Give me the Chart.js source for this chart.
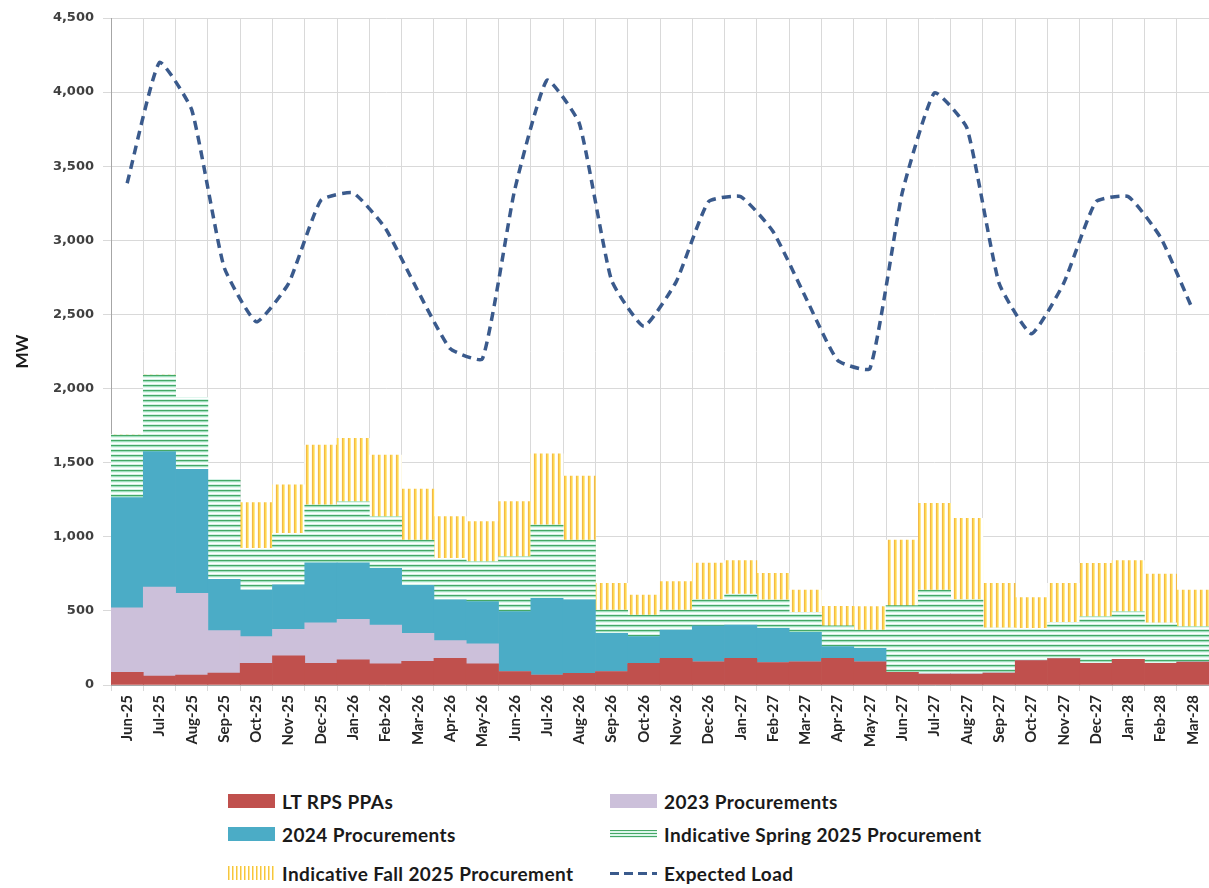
<!DOCTYPE html>
<html>
<head>
<meta charset="utf-8">
<script src="https://cdn.jsdelivr.net/npm/chart.js@4.4.1/dist/chart.umd.min.js"></script>
<style>
  html, body { margin: 0; padding: 0; background: #fff; }
  #wrap { position: relative; width: 1209px; height: 888px; overflow: hidden; }
  #chart { position: absolute; left: 0; top: 0; }
  .leg { position: absolute; display: flex; align-items: center; font-family: Lato, sans-serif;
         font-weight: bold; font-size: 19px; letter-spacing: 0.4px; color: #1a1a1a; white-space: nowrap; }
  .sw { width: 47px; height: 14px; margin-right: 7px; }
</style>
</head>
<body>
<div id="wrap">
  <canvas id="chart" width="1209" height="772"></canvas>
</div>
<script>
// months Jun-25 .. Mar-28
const months = ["Jun-25","Jul-25","Aug-25","Sep-25","Oct-25","Nov-25","Dec-25",
  "Jan-26","Feb-26","Mar-26","Apr-26","May-26","Jun-26","Jul-26","Aug-26","Sep-26","Oct-26","Nov-26","Dec-26",
  "Jan-27","Feb-27","Mar-27","Apr-27","May-27","Jun-27","Jul-27","Aug-27","Sep-27","Oct-27","Nov-27","Dec-27",
  "Jan-28","Feb-28","Mar-28"];

// MW
const ltRpsPpas = [85,60,67,80,146,196,146,169,142,160,180,142,90,67,79,90,146,180,157,180,151,157,180,157,85,74,74,80,164,178,146,173,146,155];
const proc2023 = [435,600,552,287,180,180,274,274,263,189,119,135,0,0,0,0,0,0,0,0,0,0,0,0,0,0,0,0,0,0,0,0,0,0];
const proc2024 = [744,915,836,346,315,299,405,382,382,323,275,285,405,518,495,259,180,191,243,225,231,198,80,90,0,0,0,0,0,0,0,0,0,0];
const spring2025 = [423,518,486,675,281,349,390,412,349,306,281,270,371,495,404,157,146,135,176,209,192,135,140,124,450,567,502,305,218,245,315,322,274,239];
const fall2025 = [0,0,0,0,308,326,404,427,416,344,281,270,371,480,432,180,135,191,247,225,180,151,131,158,443,585,549,301,207,263,360,344,329,247];
const expectedLoad = [3385,4200,3880,2820,2450,2710,3270,3320,3080,2660,2270,2200,3340,4080,3790,2730,2420,2720,3260,3295,3060,2620,2190,2135,3320,3995,3760,2710,2370,2710,3260,3295,3020,2530];

// striped fills, like the Excel pattern fills
function stripes(colors, vertical){
  const c = document.createElement("canvas");
  c.width = vertical ? colors.length : 1;
  c.height = vertical ? 1 : colors.length;
  const g = c.getContext("2d");
  colors.forEach((col, i) => {
    g.fillStyle = col;
    if (vertical) g.fillRect(i, 0, 1, 1); else g.fillRect(0, i, 1, 1);
  });
  return g.createPattern(c, "repeat");
}
const ctx = document.getElementById("chart").getContext("2d");
const springFill = stripes(["#45A866","#9FE0BE","#E2F7EF","#FFFFFF","#D3F2E6"], false);
const fallFill = stripes(["#F3B84A","#FFD84D","#FFE98F","#FFFFFF","#FFFFFF","#FFFBE6"], true);

const bar = { stack: "supply", order: 1, borderWidth: 0, categoryPercentage: 1, barPercentage: 1 };

const chart = new Chart(ctx, {
  type: "bar",
  data: {
    labels: months,
    datasets: [
      { type: "line", label: "Expected Load", data: expectedLoad, stack: "load", order: 0,
        borderColor: "#3A5A8C", borderWidth: 3.5, borderDash: [9, 6], pointRadius: 0, tension: 0.15, fill: false },
      { ...bar, label: "LT RPS PPAs", data: ltRpsPpas, backgroundColor: "#C0504D" },
      { ...bar, label: "2023 Procurements", data: proc2023, backgroundColor: "#CCC0DA" },
      { ...bar, label: "2024 Procurements", data: proc2024, backgroundColor: "#4BACC6" },
      { ...bar, label: "Indicative Spring 2025 Procurement", data: spring2025, backgroundColor: springFill },
      { ...bar, label: "Indicative Fall 2025 Procurement", data: fall2025, backgroundColor: fallFill }
    ]
  },
  options: {
    responsive: false,
    devicePixelRatio: 1,
    animation: false,
    layout: { padding: { left: 4, top: 18, right: 0, bottom: 0 } },
    plugins: { legend: { display: false }, tooltip: { enabled: false } },
    scales: {
      x: {
        stacked: true,
        grid: { color: "#D9D9D9", offset: true, tickLength: 6 },
        border: { color: "#A6A6A6" },
        ticks: { autoSkip: false, minRotation: 90, maxRotation: 90, padding: 4, color: "#262626",
                 font: { family: "Lato", weight: "bold", size: 15 } },
        afterFit: s => { s.height = 87; s.paddingRight = 0; s.paddingLeft = 0; }
      },
      y: {
        stacked: true, min: 0, max: 4500,
        grid: { color: "#D9D9D9", tickLength: 8 },
        border: { color: "#A6A6A6" },
        ticks: { stepSize: 500, padding: 9, color: "#404040",
                 font: { family: "DejaVu Sans", weight: "bold", size: 13 },
                 callback: v => v.toLocaleString("en-US") },
        title: { display: true, text: "MW", color: "#1a1a1a", padding: { top: 8, bottom: 0 },
                 font: { family: "Lato", weight: "bold", size: 17 } },
        afterFit: s => { s.width = 107; }
      }
    }
  }
});

// legend below the chart, two columns
const legendSpots = [
  ["LT RPS PPAs", 228, 801], ["2023 Procurements", 610, 801],
  ["2024 Procurements", 228, 834], ["Indicative Spring 2025 Procurement", 610, 834],
  ["Indicative Fall 2025 Procurement", 228, 873], ["Expected Load", 610, 873]
];
const swatchCss = {
  "LT RPS PPAs": "background:#C0504D",
  "2023 Procurements": "background:#CCC0DA",
  "2024 Procurements": "background:#4BACC6",
  "Indicative Spring 2025 Procurement": "height:8px;background:repeating-linear-gradient(to bottom,#45A866 0 1px,#DDF5EC 1px 3px)",
  "Indicative Fall 2025 Procurement": "background:repeating-linear-gradient(to right,#F5C342 0 1px,#FFE98F 1px 2px,#fff 2px 4px)",
  "Expected Load": "height:3px;background:repeating-linear-gradient(to right,#3A5A8C 0 9px,transparent 9px 14px)"
};
const wrap = document.getElementById("wrap");
legendSpots.forEach(([label, x, y]) => {
  const ds = chart.data.datasets.find(d => d.label === label);
  const el = document.createElement("div");
  el.className = "leg";
  el.style.left = x + "px";
  el.style.top = (y - 12) + "px";
  el.style.height = "24px";
  el.innerHTML = '<div class="sw" style="' + swatchCss[label] + '"></div><span></span>';
  el.querySelector("span").textContent = ds.label;
  wrap.appendChild(el);
});
</script>
</body>
</html>
